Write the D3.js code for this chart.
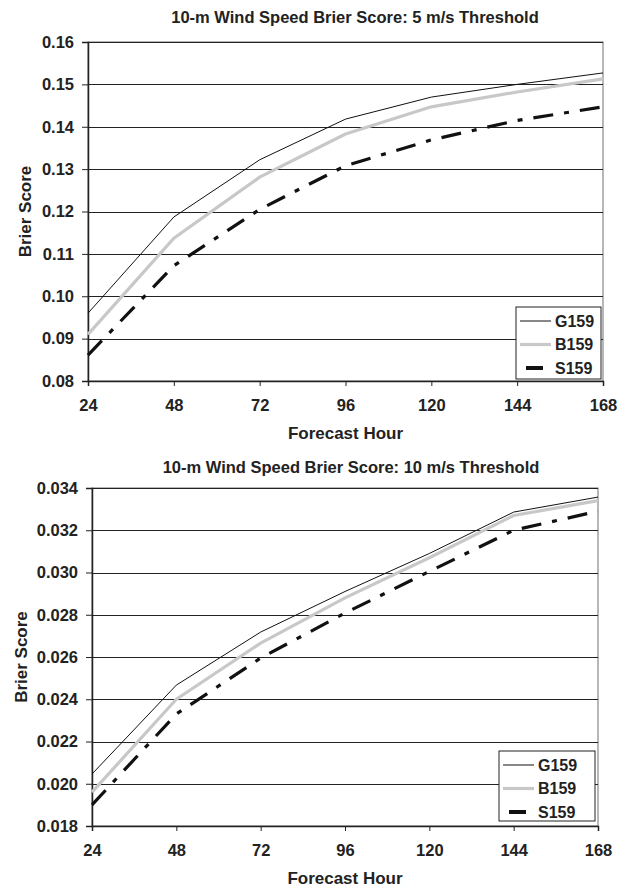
<!doctype html>
<meta charset='utf-8'>
<body style="margin:0;background:#fff">
<script src='https://cdn.jsdelivr.net/npm/d3@7/dist/d3.min.js'></script>
<script>

// forecast hours on the x axis
var hours = [24, 48, 72, 96, 120, 144, 168];

// 5 m/s threshold
var g159_5 = [0.0960, 0.1187, 0.1322, 0.1418, 0.1470, 0.1500, 0.1527];
var b159_5 = [0.0910, 0.1137, 0.1281, 0.1383, 0.1447, 0.1482, 0.1513];
var s159_5 = [0.0861, 0.1072, 0.1205, 0.1308, 0.1369, 0.1415, 0.1447];
var ticks_5 = [0.08, 0.09, 0.10, 0.11, 0.12, 0.13, 0.14, 0.15, 0.16];

// 10 m/s threshold
var g159_10 = [0.02046, 0.02467, 0.02718, 0.02910, 0.03090, 0.03286, 0.03357];
var b159_10 = [0.01960, 0.02400, 0.02666, 0.02880, 0.03070, 0.03270, 0.03340];
var s159_10 = [0.01900, 0.02330, 0.02595, 0.02808, 0.03005, 0.03200, 0.03290];
var ticks_10 = [0.018, 0.020, 0.022, 0.024, 0.026, 0.028, 0.030, 0.032, 0.034];

var seriesNames = ['G159', 'B159', 'S159'];

var width = 627, height = 887;
var font = 'Liberation Sans, Arial, sans-serif';

var svg = d3.select('body').append('svg')
    .attr('width', width)
    .attr('height', height)
    .style('display', 'block');

svg.append('rect').attr('width', width).attr('height', height).attr('fill', '#fff');

var styles = [
  {stroke: '#111', width: 1, dash: null},
  {stroke: '#c8c8c8', width: 3.2, dash: null},
  {stroke: '#111', width: 3.2, dash: '20,11,5,11'}
];

function bold(sel, size) {
  return sel.attr('fill', '#222')
    .style('font-family', font).style('font-size', size + 'px').style('font-weight', 'bold');
}

function drawChart(o) {
  var x = d3.scaleLinear().domain([24, 168]).range([o.left, o.right]);
  var y = d3.scaleLinear().domain([o.ticks[0], o.ticks[o.ticks.length - 1]]).range([o.bottom, o.top]);
  var g = svg.append('g');

  // plot border
  g.append('rect')
    .attr('x', o.left).attr('y', o.top)
    .attr('width', o.right - o.left).attr('height', o.bottom - o.top)
    .attr('fill', 'none').attr('stroke', '#888').attr('stroke-width', 1.2);

  // gridlines
  g.selectAll('.grid').data(o.ticks).enter().append('line')
    .attr('x1', o.left).attr('x2', o.right)
    .attr('y1', function(d) { return Math.round(y(d)) + 0.5; })
    .attr('y2', function(d) { return Math.round(y(d)) + 0.5; })
    .attr('stroke', '#222').attr('stroke-width', 1);

  var yAxis = g.append('g')
    .attr('transform', 'translate(' + o.left + ',0)')
    .call(d3.axisLeft(y).tickValues(o.ticks).tickFormat(d3.format(o.fmt)).tickSize(6).tickPadding(8));
  var xAxis = g.append('g')
    .attr('transform', 'translate(0,' + o.bottom + ')')
    .call(d3.axisBottom(x).tickValues(hours).tickFormat(d3.format('d')).tickSize(5).tickPadding(13));

  [yAxis, xAxis].forEach(function(a) {
    a.selectAll('path').attr('stroke', '#222').attr('stroke-width', 1.5);
    a.selectAll('line').attr('stroke', '#222');
    bold(a.selectAll('text'), 16.5);
  });

  var line = d3.line()
    .x(function(d, i) { return x(hours[i]); })
    .y(function(d) { return y(d); });

  [1, 2, 0].forEach(function(k) {
    g.append('path')
      .attr('d', line(o.series[k]))
      .attr('fill', 'none')
      .attr('stroke', styles[k].stroke)
      .attr('stroke-width', styles[k].width)
      .attr('stroke-dasharray', styles[k].dash)
      .attr('stroke-linejoin', 'round');
  });

  // titles
  bold(g.append('text'), 16.5)
    .attr('x', o.titleX).attr('y', o.titleY)
    .attr('text-anchor', 'middle')
    .text(o.title);
  bold(g.append('text'), 17)
    .attr('x', (o.left + o.right) / 2).attr('y', o.xTitleY)
    .attr('text-anchor', 'middle')
    .text('Forecast Hour');
  bold(g.append('text'), 17)
    .attr('transform', 'translate(' + o.yTitleX + ',' + (o.top + o.bottom) / 2 + ') rotate(-90)')
    .attr('text-anchor', 'middle')
    .attr('dy', '0.35em')
    .text('Brier Score');

  // legend
  var L = o.legend;
  g.append('rect')
    .attr('x', L.x).attr('y', L.y).attr('width', L.w).attr('height', L.h)
    .attr('fill', '#fff').attr('stroke', '#222').attr('stroke-width', 1);
  seriesNames.forEach(function(name, k) {
    var cy = L.y + 14 + k * 23.5;
    var x1 = k === 2 ? L.x + 10 : L.x + 4;
    var x2 = k === 2 ? L.x + 27 : L.x + 35;
    g.append('line')
      .attr('x1', x1).attr('x2', x2).attr('y1', cy).attr('y2', cy)
      .attr('stroke', styles[k].stroke)
      .attr('stroke-width', k === 2 ? 4 : styles[k].width);
    bold(g.append('text'), 16)
      .attr('x', L.x + 39).attr('y', cy).attr('dy', '0.36em')
      .text(name);
  });
}

drawChart({
  left: 88, right: 603, top: 42, bottom: 381,
  ticks: ticks_5, fmt: '.2f',
  series: [g159_5, b159_5, s159_5],
  title: '10-m Wind Speed Brier Score: 5 m/s Threshold',
  titleX: 355, titleY: 23, xTitleY: 439, yTitleX: 25,
  legend: {x: 516, y: 307, w: 85, h: 72}
});

drawChart({
  left: 92, right: 598, top: 488, bottom: 826,
  ticks: ticks_10, fmt: '.3f',
  series: [g159_10, b159_10, s159_10],
  title: '10-m Wind Speed Brier Score: 10 m/s Threshold',
  titleX: 351, titleY: 473, xTitleY: 884, yTitleX: 21,
  legend: {x: 499, y: 751, w: 96, h: 70}
});

</script>
